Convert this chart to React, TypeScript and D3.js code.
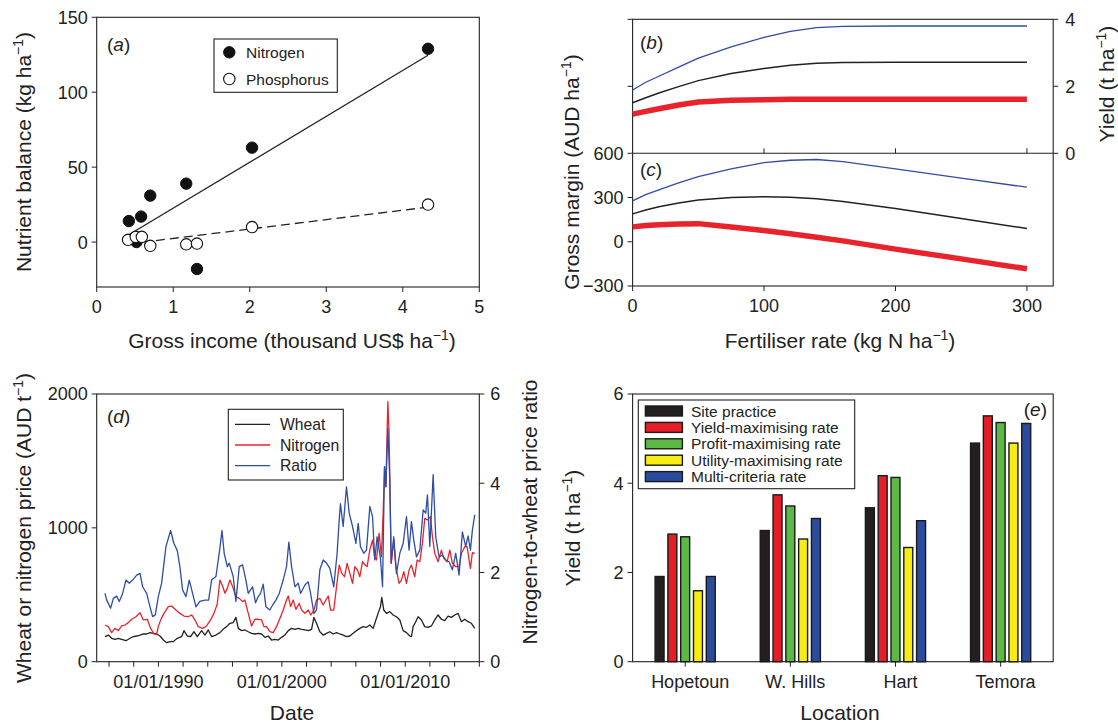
import React from 'react';
import * as d3 from 'd3';

const FONT = "'Liberation Sans', Arial, Helvetica, sans-serif";
const TICK_FS = 18;
const TITLE_FS = 21;
const INK = '#222';
const RED = '#e8232b';
const BLUE = '#2e4da3';

// ---------- Panel (a) ----------
const incomeN = [0.42, 0.52, 0.58, 0.7, 1.17, 1.31, 2.03, 4.33];
const balanceN = [14, 0, 17, 31, 39, -18, 63, 129];
const incomeP = [0.41, 0.51, 0.59, 0.7, 1.17, 1.31, 2.03, 4.33];
const balanceP = [1.5, 3.5, 3.5, -2.5, -1.5, -1, 10, 25];
const ticksAx = [0, 1, 2, 3, 4, 5];
const ticksAy = [0, 50, 100, 150];

// ---------- Panels (b) and (c) ----------
const fertRate = [0, 10, 20, 35, 50, 75, 100, 120, 140, 160, 200, 250, 300];
const yieldBlue = [1.89, 2.12, 2.3, 2.57, 2.84, 3.18, 3.46, 3.64, 3.75, 3.79, 3.8, 3.8, 3.8];
const yieldBlack = [1.51, 1.66, 1.8, 1.99, 2.17, 2.38, 2.53, 2.63, 2.69, 2.71, 2.72, 2.72, 2.72];
const yieldRed = [1.17, 1.25, 1.33, 1.44, 1.53, 1.58, 1.6, 1.61, 1.61, 1.61, 1.61, 1.61, 1.61];
const marginBlue = [277, 320, 352, 400, 442, 495, 537, 553, 558, 543, 495, 432, 370];
const marginBlack = [189, 215, 238, 263, 283, 300, 306, 302, 291, 273, 225, 158, 90];
const marginRed = [101, 110, 116, 121, 123, 100, 77, 54, 31, 6, -50, -116, -183];
const ticksFert = [0, 100, 200, 300];
const ticksMargin = [-300, 0, 300, 600];
const ticksYieldB = [0, 2, 4];

// ---------- Panel (d) ----------
const wheatYear = [1985.67, 1985.94, 1986.21, 1986.48, 1986.75, 1987.02, 1987.37, 1987.7, 1987.97, 1988.24, 1988.51, 1988.78, 1989.05, 1989.32, 1989.59, 1989.86, 1990.13, 1990.4, 1990.67, 1990.94, 1991.21, 1991.53, 1991.88, 1992.07, 1992.34, 1992.61, 1992.88, 1993.15, 1993.5, 1993.77, 1994.04, 1994.31, 1994.66, 1994.98, 1995.25, 1995.52, 1995.79, 1996.06, 1996.28, 1996.47, 1996.74, 1997.01, 1997.28, 1997.55, 1997.82, 1998.09, 1998.36, 1998.63, 1998.9, 1999.17, 1999.44, 1999.71, 1999.98, 2000.25, 2000.52, 2000.79, 2001.06, 2001.33, 2001.6, 2001.87, 2002.14, 2002.41, 2002.6, 2002.81, 2003.08, 2003.35, 2003.62, 2003.89, 2004.16, 2004.43, 2004.7, 2004.97, 2005.24, 2005.51, 2005.78, 2006.05, 2006.32, 2006.59, 2006.86, 2007.13, 2007.4, 2007.62, 2007.8, 2007.99, 2008.1, 2008.26, 2008.48, 2008.75, 2009.02, 2009.29, 2009.56, 2009.83, 2010.1, 2010.37, 2010.5, 2010.64, 2010.85, 2011.04, 2011.31, 2011.58, 2011.85, 2012.12, 2012.39, 2012.66, 2012.93, 2013.2, 2013.47, 2013.74, 2014.01, 2014.28, 2014.55, 2014.82, 2015.09, 2015.36, 2015.63];
const wheatPrice = [187, 199, 175, 167, 175, 167, 157, 175, 187, 192, 199, 207, 207, 217, 212, 207, 192, 162, 142, 150, 150, 175, 187, 232, 192, 187, 224, 187, 232, 199, 237, 187, 199, 217, 242, 262, 287, 292, 331, 249, 232, 237, 224, 212, 207, 212, 207, 182, 192, 162, 167, 162, 182, 199, 232, 249, 242, 249, 242, 237, 232, 242, 331, 287, 224, 199, 212, 224, 207, 217, 207, 199, 187, 192, 212, 232, 249, 262, 257, 274, 249, 312, 361, 411, 481, 386, 361, 374, 349, 336, 312, 232, 217, 192, 187, 262, 299, 336, 312, 262, 257, 267, 312, 349, 317, 307, 341, 331, 349, 361, 299, 317, 299, 287, 249];

const nitroYear = [1985.67, 1985.94, 1986.21, 1986.48, 1986.75, 1987.02, 1987.29, 1987.56, 1987.83, 1988.18, 1988.51, 1988.78, 1989.1, 1989.37, 1989.64, 1989.86, 1989.99, 1990.18, 1990.45, 1990.8, 1991.07, 1991.42, 1991.74, 1992.07, 1992.42, 1992.69, 1992.96, 1993.23, 1993.58, 1993.9, 1994.23, 1994.5, 1994.77, 1994.98, 1995.2, 1995.39, 1995.58, 1995.79, 1996.01, 1996.28, 1996.55, 1996.82, 1997.01, 1997.28, 1997.55, 1997.82, 1998.09, 1998.36, 1998.55, 1998.76, 1999.03, 1999.3, 1999.57, 1999.9, 2000.11, 2000.38, 2000.52, 2000.71, 2000.92, 2001.14, 2001.41, 2001.6, 2001.87, 2002.14, 2002.35, 2002.6, 2002.81, 2003.08, 2003.35, 2003.57, 2003.76, 2003.95, 2004.21, 2004.43, 2004.65, 2004.86, 2005.08, 2005.29, 2005.51, 2005.73, 2005.91, 2006.13, 2006.32, 2006.54, 2006.75, 2006.91, 2007.13, 2007.35, 2007.51, 2007.67, 2007.88, 2008.07, 2008.21, 2008.32, 2008.43, 2008.59, 2008.69, 2008.86, 2009.07, 2009.23, 2009.5, 2009.69, 2009.88, 2010.1, 2010.31, 2010.5, 2010.77, 2010.96, 2011.18, 2011.39, 2011.58, 2011.8, 2012.04, 2012.2, 2012.39, 2012.66, 2012.93, 2013.12, 2013.39, 2013.61, 2013.82, 2014.09, 2014.36, 2014.55, 2014.82, 2015.01, 2015.28, 2015.44, 2015.63];
const nitroPrice = [274, 262, 217, 249, 232, 267, 274, 292, 317, 336, 366, 312, 317, 249, 207, 207, 262, 312, 361, 411, 416, 386, 361, 341, 336, 349, 312, 262, 249, 267, 312, 361, 431, 610, 566, 511, 548, 610, 561, 486, 473, 449, 461, 361, 267, 317, 317, 312, 262, 262, 224, 217, 262, 336, 386, 461, 491, 411, 461, 391, 436, 386, 361, 386, 349, 386, 461, 473, 424, 461, 491, 386, 386, 561, 722, 660, 635, 735, 660, 585, 710, 685, 635, 747, 722, 710, 835, 909, 785, 760, 959, 785, 1108, 1452, 1308, 1943, 1706, 735, 909, 710, 585, 610, 673, 585, 685, 722, 635, 760, 747, 884, 1071, 1059, 1084, 934, 810, 747, 834, 772, 747, 834, 735, 710, 710, 810, 859, 859, 697, 814, 810];

const ratioYear = [1985.67, 1985.81, 1986.13, 1986.35, 1986.62, 1986.83, 1987.1, 1987.37, 1987.64, 1987.91, 1988.24, 1988.51, 1988.72, 1989.05, 1989.32, 1989.53, 1989.75, 1989.99, 1990.26, 1990.61, 1990.99, 1991.26, 1991.53, 1991.74, 1991.96, 1992.23, 1992.5, 1992.77, 1993.04, 1993.36, 1993.77, 1994.07, 1994.31, 1994.66, 1994.98, 1995.15, 1995.33, 1995.58, 1995.74, 1996.06, 1996.28, 1996.55, 1996.82, 1997.09, 1997.28, 1997.63, 1997.87, 1998.09, 1998.28, 1998.49, 1998.71, 1999.03, 1999.25, 1999.52, 1999.79, 2000.11, 2000.38, 2000.57, 2000.79, 2001.06, 2001.33, 2001.52, 2001.87, 2002.14, 2002.33, 2002.6, 2002.81, 2003.08, 2003.35, 2003.62, 2003.89, 2004.21, 2004.48, 2004.65, 2004.75, 2004.97, 2005.24, 2005.46, 2005.73, 2006.0, 2006.19, 2006.37, 2006.64, 2006.86, 2007.13, 2007.35, 2007.53, 2007.72, 2007.99, 2008.16, 2008.32, 2008.43, 2008.59, 2008.75, 2008.86, 2009.07, 2009.29, 2009.56, 2009.83, 2010.1, 2010.31, 2010.5, 2010.69, 2010.91, 2011.18, 2011.45, 2011.66, 2011.8, 2011.99, 2012.26, 2012.47, 2012.74, 2013.01, 2013.28, 2013.55, 2013.82, 2014.09, 2014.36, 2014.63, 2014.9, 2015.09, 2015.28, 2015.44, 2015.63];
const ratioValue = [1.53, 1.38, 1.2, 1.42, 1.47, 1.35, 1.53, 1.83, 1.76, 1.83, 1.94, 1.98, 1.68, 1.53, 1.23, 1.01, 1.05, 1.46, 1.76, 2.58, 2.94, 2.65, 2.49, 2.13, 1.61, 1.46, 1.83, 1.53, 1.23, 1.35, 1.38, 1.38, 1.83, 1.91, 2.54, 2.94, 2.43, 2.13, 2.21, 1.91, 1.35, 2.13, 2.17, 1.83, 1.53, 1.68, 1.32, 1.46, 1.53, 1.74, 1.23, 1.16, 1.27, 1.38, 1.53, 1.83, 2.13, 2.68, 2.13, 1.68, 1.76, 1.53, 1.72, 1.79, 1.53, 1.08, 1.16, 2.06, 2.28, 2.21, 2.09, 1.68, 2.43, 3.18, 3.54, 3.03, 3.92, 3.33, 3.03, 2.65, 3.1, 2.58, 2.43, 2.5, 3.48, 3.25, 2.28, 2.8, 2.32, 1.68, 4.37, 3.92, 5.23, 4.07, 2.21, 2.8, 1.98, 2.43, 2.65, 3.25, 2.5, 3.14, 2.73, 2.35, 2.5, 3.4, 3.33, 3.74, 2.58, 4.19, 2.8, 2.35, 2.39, 2.28, 2.24, 2.06, 2.43, 1.94, 2.91, 2.58, 2.82, 2.5, 2.95, 3.29];

const ticksYear = d3.range(1986, 2017, 2);
const labelYears = [1990, 2000, 2010];
const ticksPrice = [0, 1000, 2000];
const ticksRatio = [0, 2, 4, 6];

// ---------- Panel (e) ----------
const locations = ['Hopetoun', 'W. Hills', 'Hart', 'Temora'];
const strategies = ['Site practice', 'Yield-maximising rate', 'Profit-maximising rate', 'Utility-maximising rate', 'Multi-criteria rate'];
const strategyColors = ['#231f20', '#e41e26', '#5cb946', '#f7ec13', '#2b4c9e'];
const yieldSite = [1.91, 2.94, 3.45, 4.9];
const yieldMaxYield = [2.86, 3.74, 4.17, 5.51];
const yieldProfit = [2.8, 3.49, 4.13, 5.36];
const yieldUtility = [1.59, 2.75, 2.56, 4.9];
const yieldMulti = [1.91, 3.21, 3.16, 5.34];
const ticksYieldE = [0, 2, 4, 6];

const txt = { fontFamily: FONT, fill: INK } as const;

function Sup({ pre, sup, post }: { pre: string; sup: string; post: string }) {
  return (
    <>
      {pre}
      <tspan dy={-8} fontSize={14}>{sup}</tspan>
      <tspan dy={8}>{post}</tspan>
    </>
  );
}

function linFit(xs: number[], ys: number[]) {
  const mx = d3.mean(xs)!;
  const my = d3.mean(ys)!;
  let sxy = 0, sxx = 0;
  xs.forEach((x, i) => { sxy += (x - mx) * (ys[i] - my); sxx += (x - mx) * (x - mx); });
  const b = sxy / sxx;
  const a = my - b * mx;
  const x0 = d3.min(xs)!, x1 = d3.max(xs)!;
  return [[x0, a + b * x0], [x1, a + b * x1]] as [number, number][];
}

function PanelA() {
  const x = d3.scaleLinear([0, 5], [96.7, 479.3]);
  const y = d3.scaleLinear([-30, 150], [287, 17.3]);
  const line = d3.line<[number, number]>().x(d => x(d[0])).y(d => y(d[1]));
  const fitN = linFit(incomeN, balanceN);
  const fitP = linFit(incomeP, balanceP);
  return (
    <g>
      <rect x={x(0)} y={y(150)} width={x(5) - x(0)} height={y(-30) - y(150)} fill="none" stroke={INK} strokeWidth={1.1} />
      {ticksAx.map(t => (
        <g key={'ax' + t}>
          <line x1={x(t)} x2={x(t)} y1={y(-30)} y2={y(-30) + 5} stroke={INK} />
          <text x={x(t)} y={y(-30) + 25.5} textAnchor="middle" fontSize={TICK_FS} {...txt}>{t}</text>
        </g>
      ))}
      {ticksAy.map(t => (
        <g key={'ay' + t}>
          <line x1={x(0) - 5} x2={x(0)} y1={y(t)} y2={y(t)} stroke={INK} />
          <text x={x(0) - 9} y={y(t)} dy="0.36em" textAnchor="end" fontSize={TICK_FS} {...txt}>{t}</text>
        </g>
      ))}
      <path d={line(fitN)!} stroke={INK} strokeWidth={1.3} fill="none" />
      <path d={line(fitP)!} stroke={INK} strokeWidth={1.3} fill="none" strokeDasharray="9,5" />
      {incomeN.map((v, i) => (
        <circle key={'n' + i} cx={x(v)} cy={y(balanceN[i])} r={5.7} fill="#111" stroke="#111" />
      ))}
      {incomeP.map((v, i) => (
        <circle key={'p' + i} cx={x(v)} cy={y(balanceP[i])} r={5.7} fill="#fff" stroke="#111" strokeWidth={1.1} />
      ))}
      <rect x={214} y={39} width={123.3} height={53.3} fill="#fff" stroke={INK} strokeWidth={1.1} />
      <circle cx={229.3} cy={52.3} r={5.7} fill="#111" stroke="#111" />
      <circle cx={229.3} cy={79} r={5.7} fill="#fff" stroke="#111" strokeWidth={1.1} />
      <text x={246} y={52.3} dy="0.36em" fontSize={15.5} {...txt}>Nitrogen</text>
      <text x={246} y={79} dy="0.36em" fontSize={15.5} {...txt}>Phosphorus</text>
      <text x={107} y={50.5} fontSize={19} {...txt}>(<tspan fontStyle="italic">a</tspan>)</text>
      <text x={292} y={348} textAnchor="middle" fontSize={TITLE_FS} {...txt}>
        <Sup pre="Gross income (thousand US$ ha" sup="−1" post=")" />
      </text>
      <text transform="translate(31,152) rotate(-90)" textAnchor="middle" fontSize={TITLE_FS} {...txt}>
        <Sup pre="Nutrient balance (kg ha" sup="−1" post=")" />
      </text>
    </g>
  );
}

function PanelBC() {
  const x = d3.scaleLinear([0, 320], [632.6, 1053.2]);
  const yb = d3.scaleLinear([0, 4], [153.3, 19.3]);
  const yc = d3.scaleLinear([-300, 600], [286, 153.3]);
  const lineB = (vals: number[]) => d3.line<number>().x((_, i) => x(fertRate[i])).y(d => yb(d))(vals)!;
  const lineC = (vals: number[]) => d3.line<number>().x((_, i) => x(fertRate[i])).y(d => yc(d))(vals)!;
  const left = x(0), right = x(320);
  return (
    <g>
      <rect x={left} y={yb(4)} width={right - left} height={yc(-300) - yb(4)} fill="none" stroke={INK} strokeWidth={1.1} />
      <line x1={left} x2={right} y1={yb(0)} y2={yb(0)} stroke={INK} strokeWidth={1.1} />
      {ticksFert.map(t => (
        <g key={'f' + t}>
          <line x1={x(t)} x2={x(t)} y1={yc(-300)} y2={yc(-300) + 5} stroke={INK} />
          {t > 0 && <line x1={x(t)} x2={x(t)} y1={yb(0)} y2={yb(0) - 5} stroke={INK} />}
          <text x={x(t)} y={yc(-300) + 25.5} textAnchor="middle" fontSize={TICK_FS} {...txt}>{t}</text>
        </g>
      ))}
      {ticksMargin.map(t => (
        <g key={'m' + t}>
          <line x1={left - 5} x2={left} y1={yc(t)} y2={yc(t)} stroke={INK} />
          <text x={left - 9} y={yc(t)} dy="0.36em" textAnchor="end" fontSize={TICK_FS} {...txt}>{t < 0 ? '−' + Math.abs(t) : t}</text>
        </g>
      ))}
      {ticksYieldB.map(t => (
        <g key={'yb' + t}>
          <line x1={right} x2={right + 5} y1={yb(t)} y2={yb(t)} stroke={INK} />
          {t > 0 && <line x1={left - 5} x2={left} y1={yb(t)} y2={yb(t)} stroke={INK} />}
          <text x={right + 12} y={yb(t)} dy="0.36em" textAnchor="start" fontSize={TICK_FS} {...txt}>{t}</text>
        </g>
      ))}
      <path d={lineB(yieldBlue)} stroke={BLUE} strokeWidth={1.3} fill="none" />
      <path d={lineB(yieldBlack)} stroke={INK} strokeWidth={1.5} fill="none" />
      <path d={lineB(yieldRed)} stroke={RED} strokeWidth={5.5} fill="none" strokeLinejoin="round" />
      <path d={lineC(marginBlue)} stroke={BLUE} strokeWidth={1.3} fill="none" />
      <path d={lineC(marginBlack)} stroke={INK} strokeWidth={1.5} fill="none" />
      <path d={lineC(marginRed)} stroke={RED} strokeWidth={5.5} fill="none" strokeLinejoin="round" />
      <text x={640} y={48.5} fontSize={19} {...txt}>(<tspan fontStyle="italic">b</tspan>)</text>
      <text x={640} y={176} fontSize={19} {...txt}>(<tspan fontStyle="italic">c</tspan>)</text>
      <text x={840} y={348} textAnchor="middle" fontSize={TITLE_FS} {...txt}>
        <Sup pre="Fertiliser rate (kg N ha" sup="−1" post=")" />
      </text>
      <text transform="translate(579,172) rotate(-90)" textAnchor="middle" fontSize={TITLE_FS} {...txt}>
        <Sup pre="Gross margin (AUD ha" sup="−1" post=")" />
      </text>
      <text transform="translate(1114,84) rotate(-90)" textAnchor="middle" fontSize={TITLE_FS} {...txt}>
        <Sup pre="Yield (t ha" sup="−1" post=")" />
      </text>
    </g>
  );
}

function PanelD() {
  const x = d3.scaleLinear([1985, 2016], [96.7, 479.3]);
  const y = d3.scaleLinear([0, 2000], [661.7, 394]);
  const yr = d3.scaleLinear([0, 6], [661.7, 394]);
  const mk = (xs: number[], vs: number[], sc: d3.ScaleLinear<number, number>) =>
    d3.line<number>().x((_, i) => x(xs[i])).y(d => sc(d))(vs)!;
  const left = x(1985), right = x(2016), top = y(2000), bottom = y(0);
  return (
    <g>
      <rect x={left} y={top} width={right - left} height={bottom - top} fill="none" stroke={INK} strokeWidth={1.1} />
      {ticksYear.map(t => (
        <line key={'t' + t} x1={x(t)} x2={x(t)} y1={bottom} y2={bottom + 5} stroke={INK} />
      ))}
      {labelYears.map(t => (
        <text key={'l' + t} x={x(t)} y={bottom + 26.5} textAnchor="middle" fontSize={TICK_FS} {...txt}>{`01/01/${t}`}</text>
      ))}
      {ticksPrice.map(t => (
        <g key={'p' + t}>
          <line x1={left - 5} x2={left} y1={y(t)} y2={y(t)} stroke={INK} />
          <text x={left - 9} y={y(t)} dy="0.36em" textAnchor="end" fontSize={TICK_FS} {...txt}>{t}</text>
        </g>
      ))}
      {ticksRatio.map(t => (
        <g key={'r' + t}>
          <line x1={right} x2={right + 5} y1={yr(t)} y2={yr(t)} stroke={INK} />
          <text x={right + 11} y={yr(t)} dy="0.36em" textAnchor="start" fontSize={TICK_FS} {...txt}>{t}</text>
        </g>
      ))}
      <path d={mk(wheatYear, wheatPrice, y)} stroke={INK} strokeWidth={1.3} fill="none" strokeLinejoin="round" />
      <path d={mk(nitroYear, nitroPrice, y)} stroke={RED} strokeWidth={1.3} fill="none" strokeLinejoin="round" />
      <path d={mk(ratioYear, ratioValue, yr)} stroke={BLUE} strokeWidth={1.3} fill="none" strokeLinejoin="round" />
      <rect x={228.3} y={409.3} width={115} height={70.7} fill="#fff" stroke={INK} strokeWidth={1.1} />
      {[['Wheat', INK], ['Nitrogen', RED], ['Ratio', BLUE]].map(([name, col], i) => (
        <g key={name}>
          <line x1={235} x2={270} y1={424.3 + i * 20.7} y2={424.3 + i * 20.7} stroke={col} strokeWidth={1.3} />
          <text x={280} y={424.3 + i * 20.7} dy="0.36em" fontSize={15.7} {...txt}>{name}</text>
        </g>
      ))}
      <text x={107} y={422.7} fontSize={19} {...txt}>(<tspan fontStyle="italic">d</tspan>)</text>
      <text x={292} y={720} textAnchor="middle" fontSize={TITLE_FS} {...txt}>Date</text>
      <text transform="translate(31,528) rotate(-90)" textAnchor="middle" fontSize={TITLE_FS} {...txt}>
        <Sup pre="Wheat or nitrogen price (AUD t" sup="−1" post=")" />
      </text>
      <text transform="translate(537,512) rotate(-90)" textAnchor="middle" fontSize={TITLE_FS} {...txt}>
        Nitrogen-to-wheat price ratio
      </text>
    </g>
  );
}

function PanelE() {
  const x = d3.scaleBand(locations, [632.6, 1053.2]);
  const y = d3.scaleLinear([0, 6], [661.7, 394]);
  const inner = d3.scaleBand(strategies, [-30.08, 30.08]).paddingInner(0.3).paddingOuter(0);
  const series = [yieldSite, yieldMaxYield, yieldProfit, yieldUtility, yieldMulti];
  const left = 632.6, right = 1053.2, top = y(6), bottom = y(0);
  return (
    <g>
      <rect x={left} y={top} width={right - left} height={bottom - top} fill="none" stroke={INK} strokeWidth={1.1} />
      {ticksYieldE.map(t => (
        <g key={'y' + t}>
          <line x1={left - 5} x2={left} y1={y(t)} y2={y(t)} stroke={INK} />
          <text x={left - 9} y={y(t)} dy="0.36em" textAnchor="end" fontSize={TICK_FS} {...txt}>{t}</text>
        </g>
      ))}
      {locations.map(loc => {
        const cx = x(loc)! + x.bandwidth() / 2;
        return (
          <g key={loc}>
            <line x1={cx} x2={cx} y1={bottom} y2={bottom + 5} stroke={INK} />
            <text x={cx + 5} y={bottom + 26.5} textAnchor="middle" fontSize={TICK_FS} {...txt}>{loc}</text>
          </g>
        );
      })}
      {series.map((vals, si) =>
        vals.map((v, li) => {
          const cx = x(locations[li])! + x.bandwidth() / 2;
          return (
            <rect key={si + '-' + li} x={cx + inner(strategies[si])!} y={y(v)} width={inner.bandwidth()} height={bottom - y(v)}
              fill={strategyColors[si]} stroke="#1a1a1a" strokeWidth={1.4} />
          );
        })
      )}
      <rect x={638.3} y={400} width={216.4} height={88.7} fill="#fff" stroke={INK} strokeWidth={1.1} />
      {strategies.map((s, i) => (
        <g key={s}>
          <rect x={645.4} y={411 + i * 16.4 - 5} width={37} height={10} fill={strategyColors[i]} stroke="#1a1a1a" strokeWidth={1.4} />
          <text x={691} y={411 + i * 16.4} dy="0.36em" fontSize={15.5} {...txt}>{s}</text>
        </g>
      ))}
      <text x={1047} y={416} textAnchor="end" fontSize={19} {...txt}>(<tspan fontStyle="italic">e</tspan>)</text>
      <text x={840} y={720} textAnchor="middle" fontSize={TITLE_FS} {...txt}>Location</text>
      <text transform="translate(580,528) rotate(-90)" textAnchor="middle" fontSize={TITLE_FS} {...txt}>
        <Sup pre="Yield (t ha" sup="−1" post=")" />
      </text>
    </g>
  );
}

export default function App() {
  return (
    <svg width={1118} height={725} viewBox="0 0 1118 725"
      style={{ position: 'absolute', left: 0, top: 0, background: '#fff' }}>
      <rect x={0} y={0} width={1118} height={725} fill="#fff" />
      <PanelA />
      <PanelBC />
      <PanelD />
      <PanelE />
    </svg>
  );
}
